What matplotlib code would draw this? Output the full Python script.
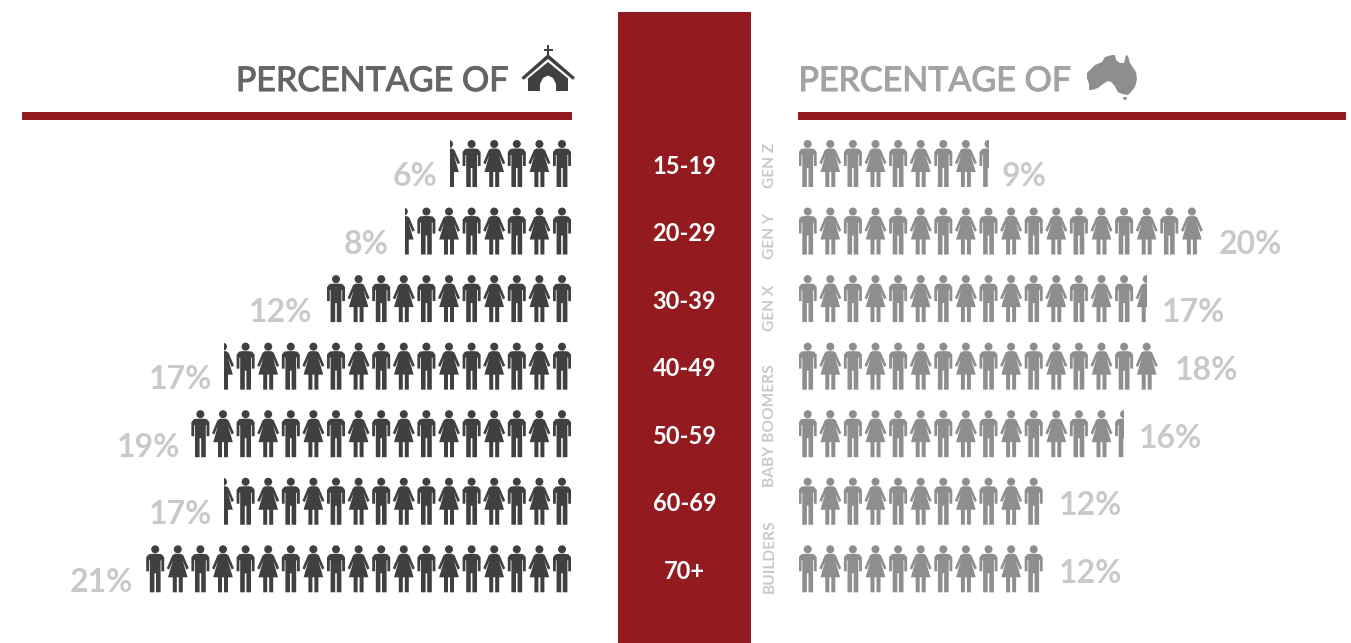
import math
import matplotlib
matplotlib.use("Agg")
import matplotlib.pyplot as plt
import matplotlib.patheffects as pe
from matplotlib.patches import Polygon, Circle, Rectangle

plt.rcParams['font.family'] = ['Lato', 'DejaVu Sans']

# values
ages = ['15-19', '20-29', '30-39', '40-49', '50-59', '60-69', '70+']
church_pct = [6, 8, 12, 17, 19, 17, 21]
church_icons = [5.4, 7.4, 11, 15.4, 17, 15.4, 19]
aus_pct = [9, 20, 17, 18, 16, 12, 12]
aus_icons = [8.4, 18, 15.4, 16, 14.4, 11, 11]
generations = ['GEN Z', 'GEN Y', 'GEN X', 'BABY BOOMERS', 'BUILDERS']
gen_centres = [165, 236, 308, 426, 556]
title = 'PERCENTAGE OF'

RED = '#931a1f'
DARK = '#404040'
GREY = '#8e8e8e'
LABEL = '#c9c9c9'
PITCH = 22.6
ROW_H = 67.55
TOP = 140

fig = plt.figure(figsize=(13.51, 6.43), dpi=100)
ax = fig.add_axes([0, 0, 1, 1])
ax.set_xlim(0, 1351)
ax.set_ylim(643, 0)
ax.axis('off')

MAN = [(-3, 8.5), (3, 8.5), (6.5, 9), (9, 12), (9, 26), (6.2, 26), (6.2, 15), (5.4, 15),
       (5.4, 47), (0.8, 47), (0.8, 28), (-0.8, 28), (-0.8, 47), (-5.4, 47), (-5.4, 15),
       (-6.2, 15), (-6.2, 26), (-9, 26), (-9, 12), (-6.5, 9)]
WOMAN = [(-3, 8.5), (3, 8.5), (5.5, 10), (11, 23), (8.6, 24.2), (5, 15.5), (9.8, 32),
         (5, 32), (5, 47), (1, 47), (1, 32), (-1, 32), (-1, 47), (-5, 47), (-5, 32),
         (-9.8, 32), (-5, 15.5), (-8.6, 24.2), (-11, 23), (-5.5, 10)]


def person(cx, top, kind, color, clip):
    shape = MAN if kind == 0 else WOMAN
    pts = [(cx + x, top + y) for x, y in shape]
    body = Polygon(pts, closed=True, fc=color, ec='none')
    head = Circle((cx, top + 4), 4, fc=color, ec='none')
    for p in (body, head):
        ax.add_patch(p)
        p.set_clip_path(clip)


def draw_row(row, count, side, color):
    top = TOP + row * ROW_H
    n = math.ceil(count)
    if side == 'left':
        x0 = 572 - count * PITCH
        first = 562
        step = -PITCH
    else:
        x0 = 799
        first = 807.7
        step = PITCH
    clip = Rectangle((x0, top - 2), count * PITCH, 52, transform=ax.transData)
    for i in range(n):
        person(first + i * step, top, i % 2, color, clip)
    return x0


# centre panel and rules
ax.add_patch(Rectangle((618, 12), 133, 631, fc=RED, ec='none'))
ax.add_patch(Rectangle((22, 112), 550, 8, fc=RED, ec='none'))
ax.add_patch(Rectangle((798, 112), 548, 8, fc=RED, ec='none'))

# headers
for x, ha, col in [(508.5, 'right', '#646566'), (798.5, 'left', '#a2a3a5')]:
    t = ax.text(x, 81, title, ha=ha, va='center', fontsize=24.5, color=col)
    t.set_path_effects([pe.withStroke(linewidth=0.8, foreground=col)])

# church icon
ax.add_patch(Polygon([(548, 58), (573, 79), (574, 77.5), (548, 55), (522.5, 77.5), (523.5, 79)], fc=DARK, ec=DARK, lw=1))
ax.add_patch(Polygon([(548, 62), (568, 78.5), (568, 91), (556, 91), (556, 84), (553, 78), (548, 75.5),
                      (543, 78), (540, 84), (540, 91), (528, 91), (528, 78.5)], fc=DARK, ec='none'))
ax.add_patch(Rectangle((547, 45), 2.2, 12, fc=DARK, ec='none'))
ax.add_patch(Rectangle((543.5, 48.5), 9, 2.2, fc=DARK, ec='none'))

# australia icon
ax.add_patch(Polygon([(1087, 73), (1095, 65), (1102, 62), (1105, 57), (1112, 55), (1115, 55), (1116, 60), (1120, 63),
                      (1124, 63), (1126, 55), (1128, 56), (1130, 63), (1136, 72), (1137, 79), (1135, 87), (1130, 93),
                      (1128, 95), (1122, 94), (1118, 92), (1114, 85), (1111, 82), (1108, 81), (1103, 84), (1098, 88),
                      (1092, 90), (1089, 90), (1089, 84), (1087, 78)], fc=GREY, ec='none'))
ax.add_patch(Polygon([(1123, 97), (1127, 97), (1126, 100), (1124, 100)], fc=GREY, ec='none'))

# people rows, label nudges are by eye
left_gap = [13, 16, 11, 12, 8, 12, 9]
right_gap = [13, 13, 15, 14, 14, 11, 11]
right_off = [37, 37, 37, 28, 28, 28, 28]
for i, age in enumerate(ages):
    top = TOP + i * ROW_H
    ax.text(684.5, top + 26, age, ha='center', va='center', fontsize=17, color='white', fontweight='bold')

    x0 = draw_row(i, church_icons[i], 'left', DARK)
    ax.text(x0 - left_gap[i], top + 37, '%d%%' % church_pct[i], ha='right', va='center',
            fontsize=23, color=LABEL, fontweight='bold')

    draw_row(i, aus_icons[i], 'right', GREY)
    ax.text(799 + aus_icons[i] * PITCH + right_gap[i], top + right_off[i], '%d%%' % aus_pct[i], ha='left', va='center',
            fontsize=23, color=LABEL, fontweight='bold')

# generation labels
for name, y in zip(generations, gen_centres):
    ax.text(770, y, name, rotation=90, ha='center', va='center', fontsize=11.2, color=LABEL, fontweight='bold')

fig.savefig('out.png', dpi=100, facecolor='white')
